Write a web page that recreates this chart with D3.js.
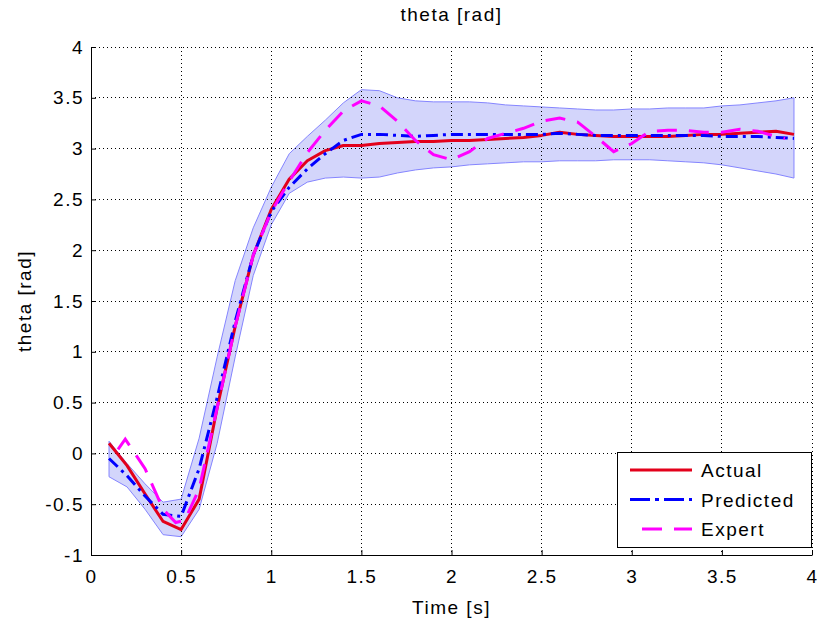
<!DOCTYPE html>
<html>
<head>
<meta charset="utf-8">
<script src="https://cdn.jsdelivr.net/npm/d3@7"></script>
<style>
  html, body { margin: 0; padding: 0; background: #fff; }
  svg { display: block; }
  text { font-family: "Liberation Sans", Arial, Helvetica, sans-serif; fill: #000; }
</style>
</head>
<body>
<svg id="chart" width="817" height="618"></svg>
<script>
// ---------- data ----------
const time = [0.1,0.2,0.3,0.4,0.5,0.6,0.7,0.8,0.9,1.0,1.1,1.2,1.3,1.4,1.5,1.6,1.7,1.8,1.9,2.0,
              2.1,2.2,2.3,2.4,2.5,2.6,2.7,2.8,2.9,3.0,3.1,3.2,3.3,3.4,3.5,3.6,3.7,3.8,3.9];
const actual = [0.10,-0.12,-0.40,-0.67,-0.75,-0.45,0.45,1.25,1.95,2.40,2.70,2.88,2.98,3.03,3.03,3.05,3.06,3.07,3.07,3.08,
                3.08,3.09,3.10,3.11,3.13,3.16,3.14,3.13,3.12,3.12,3.12,3.12,3.13,3.14,3.14,3.15,3.16,3.17,3.14];
const predicted = [-0.05,-0.22,-0.42,-0.60,-0.62,-0.15,0.55,1.30,1.95,2.38,2.62,2.80,2.95,3.08,3.14,3.14,3.13,3.12,3.13,3.14,
                   3.14,3.14,3.14,3.14,3.14,3.15,3.14,3.13,3.13,3.13,3.13,3.13,3.13,3.13,3.12,3.12,3.12,3.11,3.10];
const upper = [0.12,-0.10,-0.30,-0.48,-0.45,0.15,0.95,1.70,2.22,2.62,2.95,3.12,3.28,3.45,3.58,3.57,3.50,3.47,3.46,3.46,
               3.46,3.45,3.43,3.42,3.41,3.40,3.39,3.38,3.38,3.39,3.39,3.40,3.40,3.40,3.42,3.43,3.45,3.47,3.50];
const lower = [-0.23,-0.33,-0.55,-0.80,-0.82,-0.55,0.10,0.95,1.75,2.25,2.56,2.67,2.71,2.72,2.71,2.72,2.76,2.79,2.81,2.82,
               2.84,2.85,2.86,2.87,2.87,2.88,2.88,2.88,2.89,2.89,2.89,2.88,2.87,2.86,2.84,2.81,2.78,2.75,2.71];
const expertTime = [0.15,0.19,0.3,0.4,0.47,0.52,0.6,0.7,0.8,0.9,1.0,1.1,1.2,1.3,1.4,1.5,1.6,1.7,1.8,1.9,2.0,
                    2.1,2.2,2.3,2.4,2.5,2.6,2.7,2.8,2.9,3.0,3.1,3.2,3.3,3.4,3.5,3.6,3.7,3.8,3.85];
const expert = [0.04,0.14,-0.15,-0.55,-0.68,-0.66,-0.35,0.45,1.25,1.95,2.38,2.68,2.96,3.18,3.37,3.47,3.42,3.27,3.08,2.94,2.89,
                2.97,3.10,3.15,3.20,3.27,3.30,3.26,3.12,2.97,3.05,3.17,3.18,3.18,3.16,3.16,3.19,3.17,3.12,3.10];
const xTicks = [0,0.5,1,1.5,2,2.5,3,3.5,4];
const yTicks = [-1,-0.5,0,0.5,1,1.5,2,2.5,3,3.5,4];
const xTickLabels = ["0","0.5","1","1.5","2","2.5","3","3.5","4"];
const yTickLabels = ["-1","-0.5","0","0.5","1","1.5","2","2.5","3","3.5","4"];
const seriesNames = ["Actual","Predicted","Expert"];
const seriesColors = ["#e3001b","#0000ff","#ff00ff"];

// ---------- layout ----------
const FONT = "19px";
const LS = "1.5px";
const svg = d3.select("#chart");
const L = 91, R = 812, T = 47, B = 555;
const x = d3.scaleLinear().domain([0,4]).range([L,R]);
const y = d3.scaleLinear().domain([-1,4]).range([B,T]);

// band
const band = time.map((t,i)=>({t, lo: lower[i], hi: upper[i]}));
svg.append("path")
  .datum(band)
  .attr("d", d3.area().x(d=>x(d.t)).y0(d=>y(d.lo)).y1(d=>y(d.hi)))
  .attr("fill", "#d3d5fb")
  .attr("stroke", "#8585ff")
  .attr("stroke-width", 1);

// grid
const grid = svg.append("g");
xTicks.forEach(v => {
  if (v === 0) return;
  grid.append("line").attr("x1", x(v)).attr("x2", x(v)).attr("y1", T).attr("y2", B)
    .attr("stroke", "#000").attr("stroke-width", 1).attr("stroke-dasharray", "1,3")
    .attr("shape-rendering", "crispEdges");
});
yTicks.forEach(v => {
  if (v === -1) return;
  grid.append("line").attr("x1", L).attr("x2", R).attr("y1", y(v)).attr("y2", y(v))
    .attr("stroke", "#000").attr("stroke-width", 1).attr("stroke-dasharray", "1,3")
    .attr("shape-rendering", "crispEdges");
});

// lines
const line = d3.line().x(d=>x(d[0])).y(d=>y(d[1]));
svg.append("path").datum(time.map((t,i)=>[t,actual[i]]))
  .attr("d", line).attr("fill","none").attr("stroke", seriesColors[0])
  .attr("stroke-width", 3).attr("stroke-linejoin","round");
svg.append("path").datum(time.map((t,i)=>[t,predicted[i]]))
  .attr("d", line).attr("fill","none").attr("stroke", seriesColors[1])
  .attr("stroke-width", 3).attr("stroke-dasharray","12,5,3,5");
svg.append("path").datum(expertTime.map((t,i)=>[t,expert[i]]))
  .attr("d", line).attr("fill","none").attr("stroke", seriesColors[2])
  .attr("stroke-width", 3).attr("stroke-dasharray","20,12");

// axes
const xAxis = svg.append("g").attr("transform", `translate(0,${B})`)
  .call(d3.axisBottom(x).tickValues(xTicks).tickFormat((d,i)=>xTickLabels[i]).tickSizeInner(-5).tickSizeOuter(0).tickPadding(15));
const yAxis = svg.append("g").attr("transform", `translate(${L},0)`)
  .call(d3.axisLeft(y).tickValues(yTicks).tickFormat((d,i)=>yTickLabels[i]).tickSizeInner(-5).tickSizeOuter(0).tickPadding(7));
[xAxis, yAxis].forEach(a => {
  a.selectAll("text").style("font-size",FONT).style("letter-spacing",LS)
    .style("font-family","'Liberation Sans', Arial, sans-serif");
  a.select(".domain").attr("stroke","#000").attr("stroke-width",1);
  a.selectAll(".tick line").attr("stroke","#000");
});

// titles
svg.append("text").attr("x", (L+R)/2).attr("y", 21).attr("text-anchor","middle")
  .style("font-size",FONT).style("letter-spacing",LS).text("theta [rad]");
svg.append("text").attr("x", (L+R)/2).attr("y", 614).attr("text-anchor","middle")
  .style("font-size",FONT).style("letter-spacing",LS).text("Time [s]");
svg.append("text").attr("transform", `translate(31,${(T+B)/2}) rotate(-90)`).attr("text-anchor","middle")
  .style("font-size",FONT).style("letter-spacing",LS).text("theta [rad]");

// legend
const lg = svg.append("g");
lg.append("rect").attr("x", 617.5).attr("y", 452.5).attr("width", 194).attr("height", 95)
  .attr("fill","#fff").attr("stroke","#000").attr("stroke-width",1);
const legendDash = [null, "20,5,4,5", "20,12"];
const legendDashOffset = [0, 0, -12];
seriesNames.forEach((name, i) => {
  const cy = 470 + i*29.5;
  lg.append("line").attr("x1", 630).attr("x2", 692).attr("y1", cy).attr("y2", cy)
    .attr("stroke", seriesColors[i]).attr("stroke-width", 3)
    .attr("stroke-dasharray", legendDash[i]).attr("stroke-dashoffset", legendDashOffset[i]);
  lg.append("text").attr("x", 701).attr("y", cy + 7).style("font-size",FONT).style("letter-spacing",LS).text(name);
});
</script>
</body>
</html>
